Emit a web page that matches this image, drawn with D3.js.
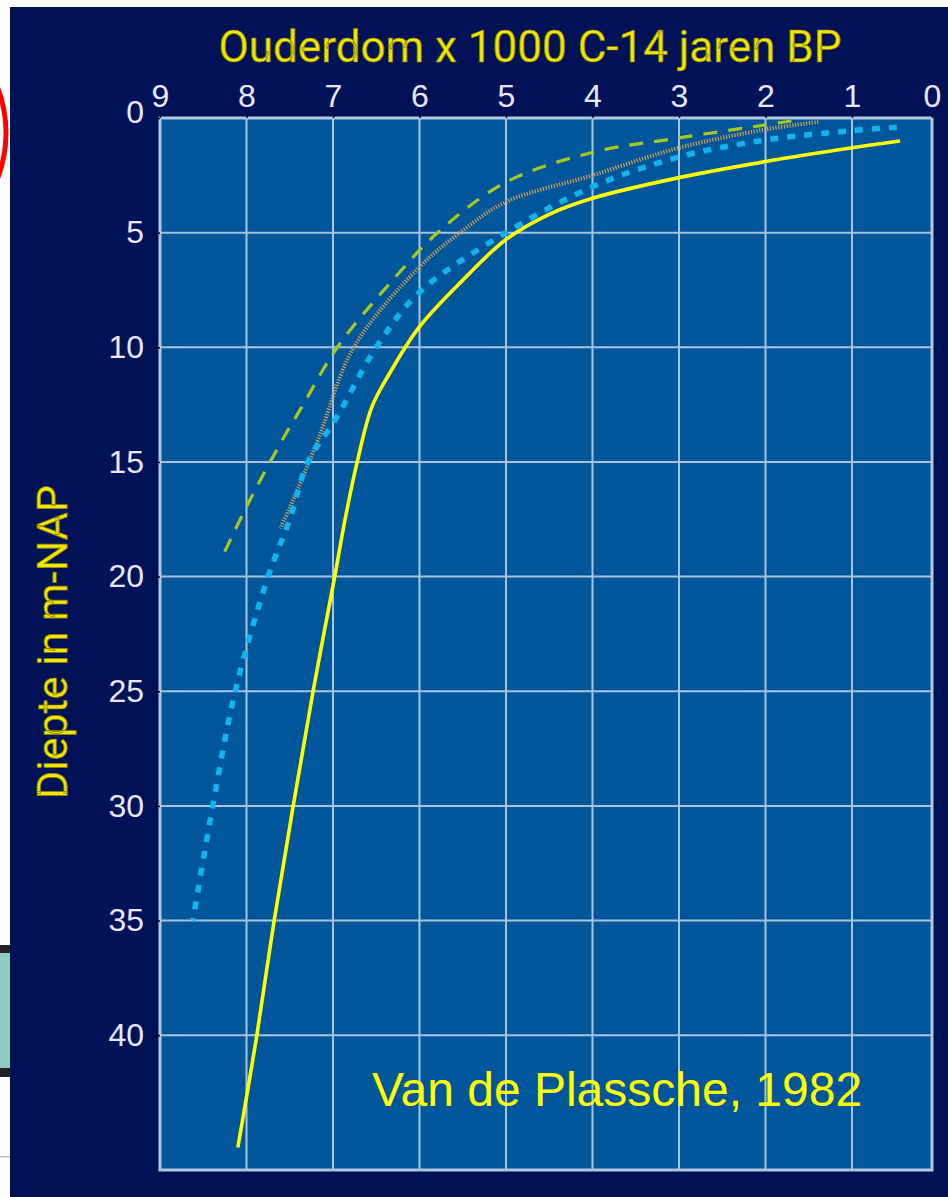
<!DOCTYPE html>
<html>
<head>
<meta charset="utf-8">
<script src="https://cdn.jsdelivr.net/npm/d3@7"></script>
<style>
  html, body { margin: 0; padding: 0; background: #ffffff; }
  svg { display: block; }
</style>
</head>
<body>
<svg id="chart" width="948" height="1197"></svg>
<script>
// Age ticks (x 1000 C-14 years BP) and depth ticks (m below NAP)
const ageTicks = [9, 8, 7, 6, 5, 4, 3, 2, 1, 0];
const depthTicks = [0, 5, 10, 15, 20, 25, 30, 35, 40];
const depthGrid = [5, 10, 15, 20, 25, 30, 35, 40];

// Sea-level curves: [age (ka BP), depth (m -NAP)]
const curveSolidYellow = [
  [0.4, 1.0], [1, 1.3], [2, 1.9], [3, 2.6], [4, 3.5], [4.5, 4.2], [5, 5.3],
  [5.5, 7.07], [6, 9.1], [6.34, 11.1], [6.55, 12.6], [6.72, 15], [6.86, 17.5],
  [6.98, 20], [7.23, 25], [7.46, 30], [7.68, 35], [7.88, 40], [8.1, 44.9]
];
const curveDottedCyan = [
  [0.44, 0.4], [1, 0.55], [2, 0.96], [3, 1.7], [4, 3.0], [5, 5.0],
  [6.0, 7.6], [6.5, 10], [6.98, 13.2], [7.29, 15], [7.5, 17.5], [7.75, 20],
  [8.13, 25], [8.39, 30], [8.62, 35]
];
const curveDashedGreen = [
  [1.7, 0.13], [2, 0.3], [3, 0.87], [4, 1.5], [5, 2.8], [5.79, 5.0],
  [6.31, 7.07], [6.95, 10], [7.36, 12.6], [7.58, 14],
  [7.98, 16.8], [8.27, 19.06]
];
const curveFineOrange = [
  [1.39, 0.17], [2, 0.5], [3, 1.3], [4, 2.5], [5, 3.66], [5.53, 5],
  [6, 6.5], [6.76, 10], [7.17, 14], [7.5, 17], [7.61, 17.9]
];

const svg = d3.select("#chart");

// Slide background pieces around the panel
svg.append("rect").attr("x", 10).attr("y", 7).attr("width", 938).attr("height", 1190)
  .attr("fill", "#001257");
svg.append("circle").attr("cx", -121).attr("cy", 133).attr("r", 127)
  .attr("fill", "none").attr("stroke", "#ff0000").attr("stroke-width", 5);
svg.append("rect").attr("x", 0).attr("y", 945).attr("width", 10).attr("height", 132)
  .attr("fill", "#222222");
svg.append("rect").attr("x", 0).attr("y", 953).attr("width", 10).attr("height", 115)
  .attr("fill", "#8fcdc4");
svg.append("rect").attr("x", 0).attr("y", 1156).attr("width", 10).attr("height", 1.5)
  .attr("fill", "#bbbbbb");

// Scales: the last interval (1 → 0) is drawn a little narrower
const x = d3.scaleLinear().domain([9, 1, 0]).range([160, 852, 932]);
const y = d3.scaleLinear().domain([0, 45.88]).range([118, 1170]);

const pLeft = x(9), pRight = x(0), pTop = y(0), pBottom = y(45.88);

// Plot panel
svg.append("rect").attr("x", pLeft).attr("y", pTop)
  .attr("width", pRight - pLeft).attr("height", pBottom - pTop)
  .attr("fill", "#00569b");

// Grid
const grid = svg.append("g").attr("stroke", "#a9c3dc").attr("stroke-width", 2);
grid.selectAll("line.v").data(ageTicks.filter(d => d > 0 && d < 9)).join("line")
  .attr("class", "v")
  .attr("x1", d => x(d)).attr("x2", d => x(d))
  .attr("y1", pTop).attr("y2", pBottom);
grid.selectAll("line.h").data(depthGrid).join("line")
  .attr("class", "h")
  .attr("x1", pLeft).attr("x2", pRight)
  .attr("y1", d => y(d)).attr("y2", d => y(d));

// Panel border
svg.append("rect").attr("x", pLeft).attr("y", pTop)
  .attr("width", pRight - pLeft).attr("height", pBottom - pTop)
  .attr("fill", "none").attr("stroke", "#b4c6dc").attr("stroke-width", 3);

// Axes
const xAxis = svg.append("g").attr("transform", `translate(0,${pTop})`)
  .call(d3.axisTop(x).tickValues(ageTicks).tickFormat(d3.format("d"))
    .tickSize(5).tickPadding(6));
const yAxis = svg.append("g").attr("transform", `translate(${pLeft},0)`)
  .call(d3.axisLeft(y).tickValues(depthTicks).tickFormat(d3.format("d"))
    .tickSize(6).tickPadding(10));

[xAxis, yAxis].forEach(ax => {
  ax.select(".domain").remove();
  ax.selectAll(".tick line").attr("stroke", "#000a30").attr("stroke-width", 1.5);
  ax.selectAll(".tick text")
    .attr("fill", "#e6e9f2")
    .attr("font-family", "'Liberation Sans', Arial, sans-serif")
    .attr("font-size", 32);
});
yAxis.selectAll(".tick text").filter(d => d === 0).attr("dy", "0.15em");

// Curves through the read-off points
const line = d3.line().x(d => x(d[0])).y(d => y(d[1])).curve(d3.curveCatmullRom.alpha(0.5));
const plot = svg.append("g").attr("fill", "none").attr("stroke-linecap", "butt");

plot.append("path").datum(curveDashedGreen).attr("d", line)
  .attr("stroke", "#a9c81e").attr("stroke-width", 3.2).attr("stroke-dasharray", "14,11");
plot.append("path").datum(curveFineOrange).attr("d", line)
  .attr("stroke", "#d9a24e").attr("stroke-width", 4).attr("stroke-dasharray", "1.2,1.6");
plot.append("path").datum(curveDottedCyan).attr("d", line)
  .attr("stroke", "#12b4ee").attr("stroke-width", 5.5).attr("stroke-dasharray", "8,9");
plot.append("path").datum(curveSolidYellow).attr("d", line)
  .attr("stroke", "#ffff00").attr("stroke-width", 3.6);

// Titles
svg.append("text")
  .attr("x", 530).attr("y", 62).attr("text-anchor", "middle")
  .attr("font-family", "Roboto, 'Open Sans', sans-serif").attr("font-size", 44)
  .attr("fill", "#f2e600").attr("stroke", "#8a8000").attr("stroke-width", 0.7)
  .text("Ouderdom x 1000 C-14 jaren BP");

svg.append("text")
  .attr("transform", "translate(67,642) rotate(-90)").attr("text-anchor", "middle")
  .attr("font-family", "Roboto, 'Open Sans', sans-serif").attr("font-size", 43)
  .attr("fill", "#f2e600").attr("stroke", "#8a8000").attr("stroke-width", 0.7)
  .text("Diepte in m-NAP");

svg.append("text")
  .attr("x", 372).attr("y", 1106)
  .attr("font-family", "'Liberation Sans', Arial, sans-serif").attr("font-size", 48)
  .attr("fill", "#ffff00")
  .text("Van de Plassche, 1982");
</script>
</body>
</html>
